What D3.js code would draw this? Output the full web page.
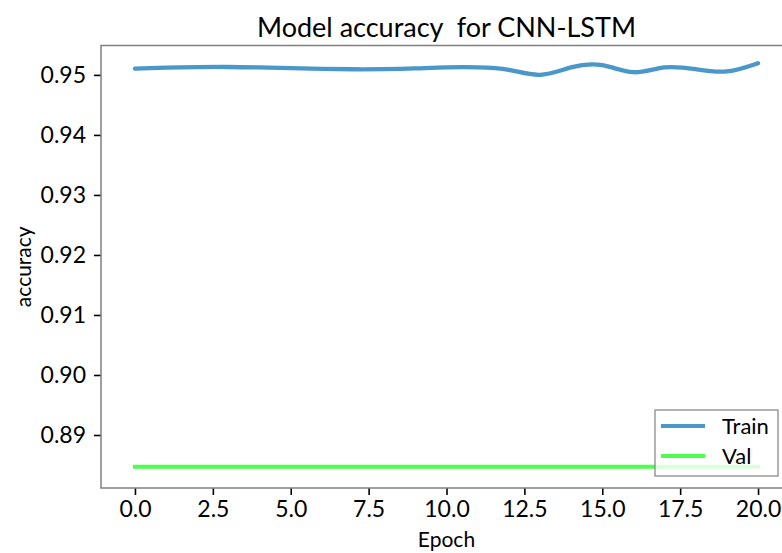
<!DOCTYPE html>
<html>
<head>
<meta charset="utf-8">
<script src="https://cdn.jsdelivr.net/npm/d3@7"></script>
<style>
  body { margin: 0; background: #fff; }
  svg { display: block; font-family: "Lato", "Open Sans", sans-serif; }
</style>
</head>
<body>
<div id="chart"></div>
<script>
// data
const epochs = [0, 1, 2, 3, 4, 5, 6, 7, 8, 9, 10, 11, 12, 13, 14, 15, 16, 17, 18, 19, 20];
const trainAcc = [0.95105, 0.95122, 0.95130, 0.95132, 0.95124, 0.95112, 0.95100, 0.95094, 0.95096, 0.95108,
  0.95125, 0.95126, 0.95085, 0.95002, 0.95125, 0.95162, 0.95045, 0.95125, 0.95095, 0.95058, 0.95195];
const valAcc = [0.8847, 0.8847, 0.8847, 0.8847, 0.8847, 0.8847, 0.8847, 0.8847, 0.8847, 0.8847,
  0.8847, 0.8847, 0.8847, 0.8847, 0.8847, 0.8847, 0.8847, 0.8847, 0.8847, 0.8847, 0.8847];
const xTicks = [0, 2.5, 5, 7.5, 10, 12.5, 15, 17.5, 20];
const yTicks = [0.89, 0.90, 0.91, 0.92, 0.93, 0.94, 0.95];
const seriesNames = ["Train", "Val"];

const W = 782, H = 553;
const margin = { top: 45.5, right: -10, bottom: 65, left: 101 };
const width = W - margin.left - margin.right;
const height = H - margin.top - margin.bottom;
const font = "Lato, 'Open Sans', sans-serif";

const colors = { Train: "#4a97c9", Val: "#4cff4c" };

const svg = d3.select("#chart")
  .append("svg")
  .attr("width", W)
  .attr("height", H);

const g = svg.append("g")
  .attr("transform", `translate(${margin.left},${margin.top})`);

const x = d3.scaleLinear()
  .domain([-1.09, 21.09])
  .range([0, width]);

const y = d3.scaleLinear()
  .domain([0.88117, 0.95490])
  .range([height, 0]);

// lines
const trainLine = d3.line()
  .x((d, i) => x(epochs[i]))
  .y(d => y(d))
  .curve(d3.curveNatural);

const valLine = d3.line()
  .x((d, i) => x(epochs[i]))
  .y(d => y(d));

g.append("path")
  .datum(trainAcc)
  .attr("d", trainLine)
  .attr("fill", "none")
  .attr("stroke", colors.Train)
  .attr("stroke-width", 4.3)
  .attr("stroke-linecap", "round");

g.append("path")
  .datum(valAcc)
  .attr("d", valLine)
  .attr("fill", "none")
  .attr("stroke", colors.Val)
  .attr("stroke-width", 4)
  .attr("stroke-linecap", "square");

// axes
const xAxis = g.append("g")
  .attr("transform", `translate(0,${height})`)
  .call(d3.axisBottom(x).tickValues(xTicks).tickFormat(d3.format(".1f")).tickSize(7).tickPadding(6));

const yAxis = g.append("g")
  .call(d3.axisLeft(y).tickValues(yTicks).tickFormat(d3.format(".2f")).tickSize(7).tickPadding(8));

[xAxis, yAxis].forEach(a => {
  a.attr("font-family", font).attr("font-size", 23);
  a.select(".domain").remove();
  a.selectAll(".tick line").attr("stroke", "#000").attr("stroke-width", 1.6);
  a.selectAll(".tick text").attr("fill", "#000");
});

// frame
g.append("rect")
  .attr("width", width)
  .attr("height", height)
  .attr("fill", "none")
  .attr("stroke", "#808080")
  .attr("stroke-width", 1.5);

// legend
const legend = g.append("g")
  .attr("transform", `translate(${655 - margin.left},${410 - margin.top})`);

legend.append("rect")
  .attr("width", 123)
  .attr("height", 66)
  .attr("fill", "#fff")
  .attr("fill-opacity", 0.8)
  .attr("stroke", "#808080")
  .attr("stroke-width", 1.2);

seriesNames.forEach((name, i) => {
  const row = legend.append("g").attr("transform", `translate(0,${16 + i * 30})`);
  row.append("line")
    .attr("x1", 6).attr("x2", 50)
    .attr("stroke", colors[name])
    .attr("stroke-width", 4);
  row.append("text")
    .attr("x", 67)
    .attr("dy", "0.35em")
    .style("font-size", "22px")
    .text(name);
});

// titles
svg.append("text")
  .attr("x", margin.left + width / 2)
  .attr("y", 37)
  .attr("text-anchor", "middle")
  .style("font-size", "27px")
  .style("white-space", "pre")
  .text("Model accuracy  for CNN-LSTM");

svg.append("text")
  .attr("x", margin.left + width / 2)
  .attr("y", 547)
  .attr("text-anchor", "middle")
  .style("font-size", "21px")
  .text("Epoch");

svg.append("text")
  .attr("transform", `translate(31,${margin.top + height / 2}) rotate(-90)`)
  .attr("text-anchor", "middle")
  .style("font-size", "21px")
  .text("accuracy");
</script>
</body>
</html>
